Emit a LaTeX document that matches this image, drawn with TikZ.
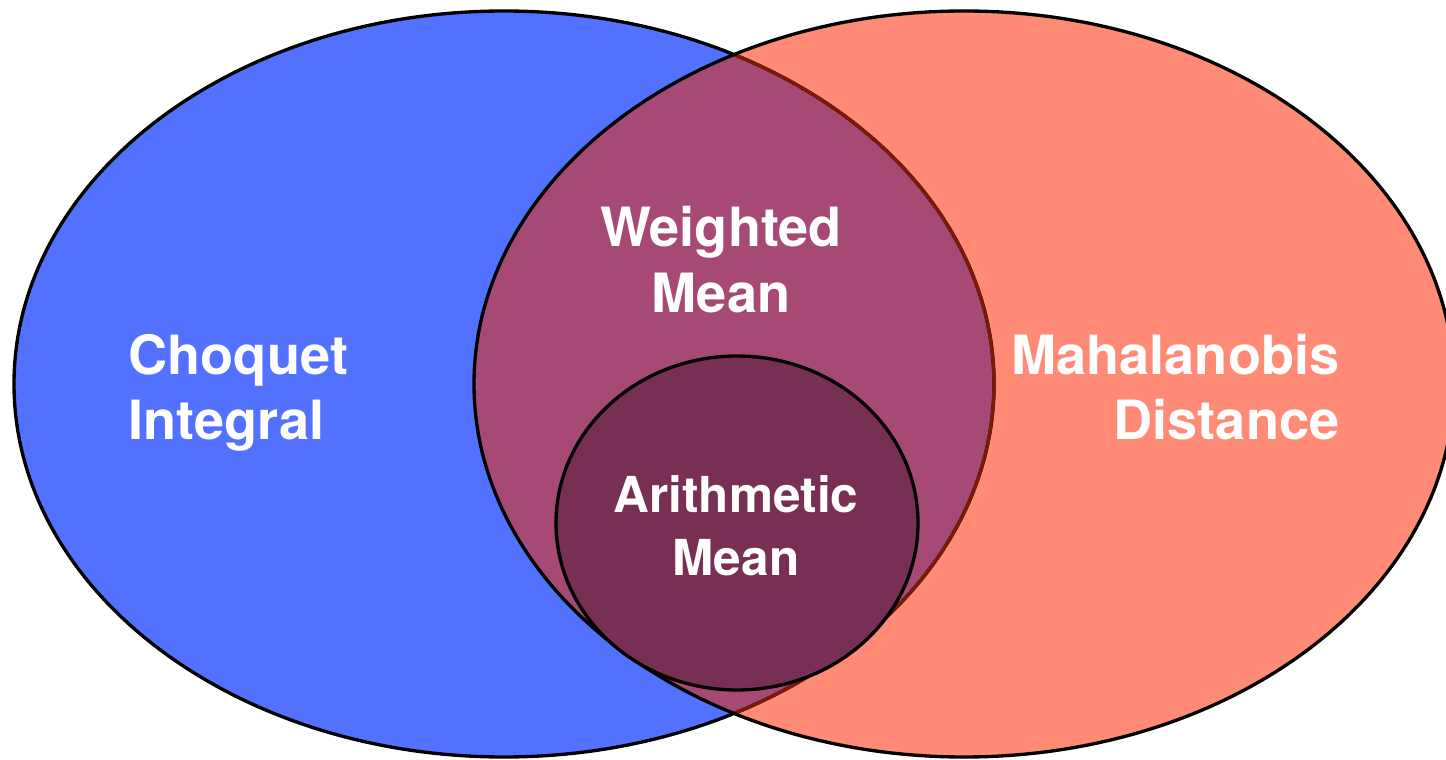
\documentclass[tikz,border=0pt]{standalone}
\usepackage{fontspec}
\setmainfont{TeX Gyre Heros}

\definecolor{setblue}{HTML}{5271FF}
\definecolor{setsalmon}{HTML}{FF8B76}
\definecolor{setoverlap}{HTML}{A64A75}
\definecolor{setinner}{HTML}{772F54}
\definecolor{setrim}{HTML}{7B1A08}

\newcommand{\choqset}{(5.04,3.75) ellipse [x radius=4.9, y radius=3.73]}
\newcommand{\mahaset}{(9.64,3.75) ellipse [x radius=4.9, y radius=3.73]}

\begin{document}
\begin{tikzpicture}[
    lbl/.style={text=white, inner sep=0pt, font=\bfseries\fontsize{15.4}{18.5}\selectfont},
    rim/.style={line width=0.95pt}
]
\useasboundingbox (0,0) rectangle (14.46,7.59);

\fill[setblue] \choqset;
\fill[setsalmon] \mahaset;
\begin{scope}
  \clip \choqset;
  \fill[setoverlap] \mahaset;
\end{scope}
\draw[rim] \choqset;
\begin{scope}
  \clip \mahaset;
  \draw[rim, setrim] \choqset;
\end{scope}
\draw[rim] \mahaset;
\draw[rim, fill=setinner] (7.37,2.36) ellipse [x radius=1.81, y radius=1.67];

\node[lbl, anchor=north west, align=left] (ci) at (1.28,4.25) {Choquet\\Integral};
\node[lbl, anchor=north, align=center, font=\bfseries\fontsize{15.4}{19}\selectfont] (wm) at (7.21,5.54) {Weighted\\Mean};
\node[lbl, anchor=north, align=center, font=\bfseries\fontsize{14.1}{18}\selectfont] (am) at (7.36,2.84) {Arithmetic\\Mean};
\node[lbl, anchor=north east, align=right] (md) at (13.40,4.26) {Mahalanobis\\Distance};
\end{tikzpicture}
\end{document}
